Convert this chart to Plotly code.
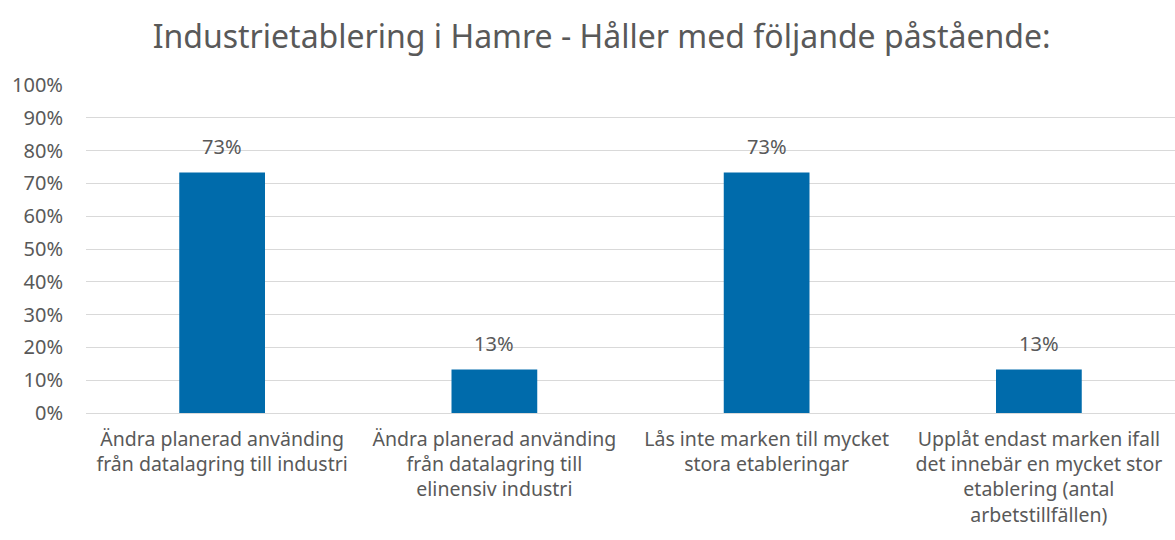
import plotly.graph_objects as go

categories = [
    "Ändra planerad använding<br>från datalagring till industri",
    "Ändra planerad använding<br>från datalagring till<br>elinensiv industri",
    "Lås inte marken till mycket<br>stora etableringar",
    "Upplåt endast marken ifall<br>det innebär en mycket stor<br>etablering (antal<br>arbetstillfällen)",
]
values = [0.733, 0.133, 0.733, 0.133]
tick_vals = [i / 10 for i in range(11)]
tick_text = [f"{i * 10}%" for i in range(11)]

FONT = "Noto Sans"
GREY = "#595959"

fig = go.Figure()
fig.add_trace(go.Bar(
    x=categories, y=values,
    marker=dict(color="#006BAB", line=dict(width=0)),
    width=0.315,
    hoverinfo="skip",
))
for c, v in zip(categories, values):
    fig.add_annotation(x=c, y=v, text=f"{v:.0%}", showarrow=False,
                       yshift=26, font=dict(family=FONT, size=20, color=GREY))

fig.update_layout(
    width=1175, height=540,
    margin=dict(l=86, r=0, t=85, b=127),
    paper_bgcolor="white", plot_bgcolor="white",
    showlegend=False,
    title=dict(text="Industrietablering i Hamre - Håller med följande påstående:",
               x=0.512, xanchor="center", y=0.932, yanchor="middle",
               font=dict(family=FONT, size=32, color=GREY)),
    xaxis=dict(showgrid=False, showline=False, ticks="", automargin=False,
               ticklabelstandoff=12,
               tickfont=dict(family=FONT, size=19.5, color=GREY)),
    yaxis=dict(range=[0, 1.0], tickvals=tick_vals, ticktext=tick_text,
               showgrid=True, gridcolor="#d9d9d9", gridwidth=1,
               zeroline=True, zerolinecolor="#d9d9d9", zerolinewidth=1,
               showline=False, ticks="", ticklabelstandoff=22, automargin=False,
               tickfont=dict(family=FONT, size=20, color=GREY)),
)
fig.write_html("out.html", config={"displayModeBar": False},
               post_script="document.body.style.margin='0';")
